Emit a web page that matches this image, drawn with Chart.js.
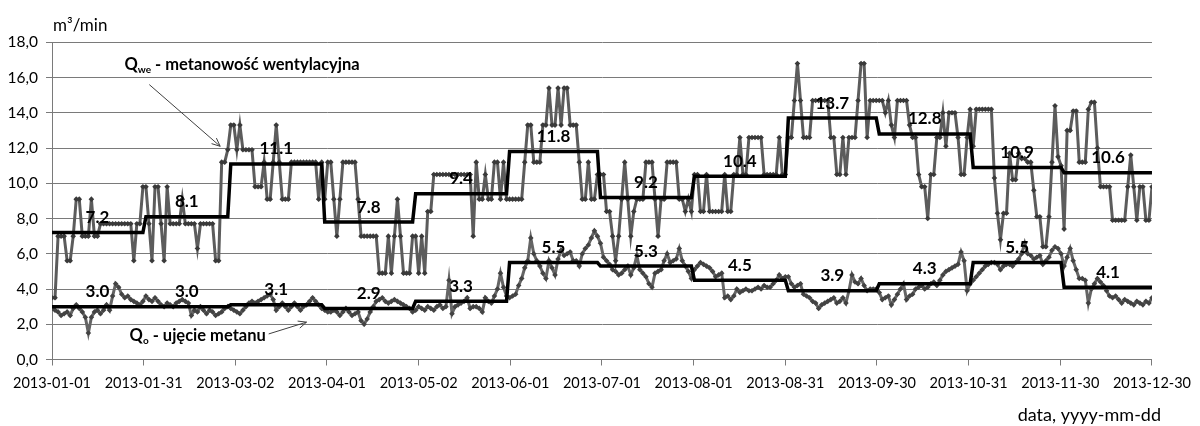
<!DOCTYPE html>
<html>
<head>
<meta charset="utf-8">
<script src="https://cdn.jsdelivr.net/npm/chart.js@4.4.1/dist/chart.umd.min.js"></script>
<style>
  html, body { margin: 0; padding: 0; background: #ffffff; }
  #wrap { width: 1200px; height: 426px; position: relative; }
</style>
</head>
<body>
<div id="wrap"><canvas id="chart" width="1200" height="426"></canvas></div>
<script>
// x-axis tick labels (13 equally spaced marks over the year)
const tickLabels = ['2013-01-01', '2013-01-31', '2013-03-02', '2013-04-01', '2013-05-02', '2013-06-01',
  '2013-07-01', '2013-08-01', '2013-08-31', '2013-09-30', '2013-10-31', '2013-11-30', '2013-12-30'];

// monthly means, m3/min
const qweMonthly = [7.2, 8.1, 11.1, 7.8, 9.4, 11.8, 9.2, 10.4, 13.7, 12.8, 10.9, 10.6];
const qoMonthly  = [3.0, 3.0, 3.1, 2.9, 3.3, 5.5, 5.3, 4.5, 3.9, 4.3, 5.5, 4.1];

// daily ventilation methane release Qwe, 2013-01-01 .. 2013-12-30
const qweDaily = [
  // Jan
  3.5,3.5,7.0,7.0,7.0,5.6,5.6,7.0,9.1,9.1,7.0,7.0,7.0,9.1,7.0,7.0,7.7,7.7,7.7,7.7,7.7,7.7,7.7,7.7,7.7,7.7,7.7,5.6,7.7,7.7,9.8,
  // Feb
  9.8,7.7,5.6,9.8,9.8,7.7,5.6,9.8,7.7,7.7,7.7,7.7,9.1,7.7,7.7,7.7,7.7,6.3,7.7,7.7,7.7,7.7,7.7,5.6,5.6,11.2,11.2,11.9,
  // Mar
  13.3,13.3,11.9,13.3,11.9,11.9,11.9,11.9,9.8,9.8,9.8,11.2,9.1,9.1,11.2,13.3,11.2,9.1,9.1,9.1,11.2,11.2,11.2,11.2,11.2,11.2,11.2,11.2,11.2,9.1,11.2,
  // Apr
  9.1,11.2,11.2,9.1,7.0,9.1,11.2,11.2,11.2,11.2,11.2,9.1,7.0,7.0,7.0,7.0,7.0,7.0,4.9,4.9,4.9,7.0,4.9,7.0,9.1,7.0,4.9,4.9,4.9,7.0,
  // May
  7.0,4.9,7.0,4.9,8.4,8.4,10.5,10.5,10.5,10.5,10.5,10.5,10.5,10.5,10.5,10.5,10.5,10.5,10.5,7.0,11.2,9.1,9.1,10.5,9.1,9.1,11.2,11.2,9.1,11.2,9.1,
  // Jun
  9.1,9.1,9.1,9.1,9.1,11.2,13.3,13.3,11.2,11.2,11.2,13.3,13.3,15.4,13.3,13.3,15.4,13.3,15.4,15.4,13.3,13.3,13.3,11.2,9.1,9.1,11.2,9.1,9.1,10.5,
  // Jul
  10.5,10.5,8.4,8.4,7.0,5.6,7.0,9.1,11.2,9.1,7.0,8.4,9.1,9.1,9.1,11.2,11.2,11.2,9.1,7.0,9.1,9.1,11.2,11.2,11.2,11.2,9.1,9.1,8.4,9.1,8.4,
  // Aug
  10.5,10.5,8.4,8.4,10.5,8.4,8.4,8.4,8.4,8.4,10.5,8.4,8.4,10.5,10.5,12.6,10.5,10.5,12.6,12.6,12.6,12.6,12.6,10.5,10.5,10.5,10.5,10.5,12.6,10.5,10.5,
  // Sep
  12.6,12.6,14.7,16.8,14.7,12.6,12.6,12.6,14.7,14.7,14.7,14.7,14.7,14.7,12.6,12.6,10.5,10.5,12.6,10.5,12.6,12.6,12.6,14.7,16.8,16.8,12.6,14.7,14.7,14.7,
  // Oct
  14.7,14.7,14.0,14.7,13.3,12.6,14.7,14.7,14.7,14.7,13.3,12.6,12.6,10.5,9.8,9.8,8.0,10.5,10.5,12.6,12.6,14.0,12.1,14.0,14.0,14.0,12.6,10.5,10.5,12.6,14.2,
  // Nov
  12.1,14.2,14.2,14.2,14.2,14.2,14.2,10.3,8.3,6.8,8.3,8.3,11.7,10.2,10.2,11.7,11.4,11.4,11.2,11.2,9.6,8.1,8.1,6.4,6.4,8.1,11.2,14.4,11.5,11.0,
  // Dec
  7.4,13.0,13.0,14.1,14.1,11.2,11.2,11.2,14.2,14.6,14.6,12.0,9.8,9.8,9.8,9.8,7.9,7.9,7.9,7.9,7.9,9.8,11.6,9.8,7.9,9.8,9.8,7.9,7.9,9.8
];

// daily methane capture by drainage Qo
const qoDaily = [
  // Jan
  2.9,2.8,2.7,2.5,2.6,2.7,2.5,2.9,3.1,2.9,2.7,2.4,1.5,2.4,2.7,2.8,2.6,2.8,3.1,2.8,3.6,4.3,4.1,3.7,3.5,3.6,3.4,3.3,3.2,3.1,3.3,
  // Feb
  3.6,3.4,3.3,3.5,3.3,3.1,3.0,3.2,3.1,3.0,3.2,3.3,3.4,3.3,3.2,2.5,2.8,2.7,3.0,2.8,2.6,2.8,2.7,2.5,2.6,2.7,2.9,3.0,
  // Mar
  2.9,2.8,2.7,2.6,2.8,3.0,3.2,3.3,3.2,3.3,3.4,3.5,3.6,3.7,3.4,2.8,3.0,3.2,3.0,2.8,3.0,3.2,3.0,2.8,3.0,3.1,3.3,3.5,3.3,3.1,2.9,
  // Apr
  2.8,2.7,2.7,2.8,2.7,2.5,2.7,2.9,2.7,2.5,2.6,2.7,2.2,2.0,2.3,2.7,3.0,3.3,3.4,3.5,3.3,3.2,3.3,3.4,3.3,3.2,3.1,3.0,2.9,2.7,
  // May
  2.8,3.0,2.9,2.8,3.0,2.9,2.8,3.0,3.1,2.9,3.0,4.5,2.6,3.0,3.1,3.2,3.3,3.5,2.9,3.0,3.0,2.9,2.7,3.5,3.3,3.2,3.6,4.0,4.9,4.1,3.6,
  // Jun
  3.5,3.6,3.7,4.2,4.6,5.2,5.6,6.9,6.0,5.6,5.3,4.9,4.6,5.6,5.2,4.8,5.7,6.2,5.9,6.0,6.1,5.6,5.6,5.3,6.0,6.3,6.5,6.9,7.3,7.0,
  // Jul
  6.6,5.8,5.6,5.4,5.1,5.0,4.8,4.9,5.1,5.3,4.8,5.2,5.9,5.1,4.9,4.7,4.3,4.1,4.9,5.0,5.1,5.6,6.0,5.5,5.6,5.7,6.3,5.6,5.3,5.0,4.6,
  // Aug
  5.1,5.3,5.5,5.4,5.3,5.2,5.0,4.7,4.8,4.9,3.5,3.6,3.4,3.6,4.0,3.8,3.9,4.0,3.9,3.9,4.0,4.1,4.0,4.2,4.1,4.1,4.3,4.5,4.8,4.6,4.7,
  // Sep
  4.7,4.3,4.1,4.2,4.3,3.7,3.6,3.5,3.3,3.2,2.9,3.1,3.2,3.3,3.4,3.5,3.2,3.3,3.5,3.2,3.9,4.8,4.4,4.3,4.6,4.2,3.9,4.0,4.0,4.0,
  // Oct
  3.8,3.4,3.5,3.6,3.1,3.4,3.7,4.0,4.3,3.4,3.6,3.7,4.0,4.1,4.2,4.0,4.1,4.3,4.4,4.2,4.5,4.8,5.0,5.1,5.2,5.3,5.4,6.1,5.6,3.9,4.3,
  // Nov
  4.5,4.7,4.9,5.1,5.3,5.4,5.5,5.5,5.4,5.1,5.3,5.4,5.4,5.3,5.5,5.7,6.0,6.6,6.0,5.9,5.7,5.8,5.9,5.4,5.6,5.8,6.2,6.4,6.3,6.0,
  // Dec
  5.3,5.8,6.3,5.6,5.1,4.6,4.6,4.5,3.2,4.0,4.3,4.6,4.4,4.2,3.9,3.6,3.5,3.6,3.4,3.2,3.4,3.3,3.2,3.1,3.3,3.2,3.1,3.3,3.2,3.5
];

// calendar: day index -> month, plus first/last day of each month
const DAY_MS = 86400000;
const yearStart = Date.UTC(2013, 0, 1);
const dayCount = qweDaily.length;
const monthOfDay = [];
for (let i = 0; i < dayCount; i++) monthOfDay.push(new Date(yearStart + i * DAY_MS).getUTCMonth());
const monthSpan = qweMonthly.map(() => [Infinity, -Infinity]);
monthOfDay.forEach((m, i) => { monthSpan[m][0] = Math.min(monthSpan[m][0], i); monthSpan[m][1] = Math.max(monthSpan[m][1], i); });

const toPoints = arr => arr.map((v, i) => ({ x: i, y: v }));
const monthlyPoints = means => monthOfDay.map((m, i) => ({ x: i, y: means[m] }));

const FONT = 'Lato, "Open Sans", sans-serif';

// annotation anchors in data units (day, m3/min)
const qweNote = { text: ' - metanowość wentylacyjna', sub: 'we', at: [23.9, 16.75], from: [32.1, 15.6], to: [55.5, 12.1] };
const qoNote  = { text: ' - ujęcie metanu', sub: 'o', at: [25.6, 1.37], from: [71.5, 1.45], to: [84.0, 2.12] };

function arrow(ctx, x1, y1, x2, y2) {
  const a = Math.atan2(y2 - y1, x2 - x1), h = 9, s = 0.42;
  ctx.beginPath();
  ctx.moveTo(x1, y1); ctx.lineTo(x2, y2);
  ctx.moveTo(x2 - h * Math.cos(a - s), y2 - h * Math.sin(a - s));
  ctx.lineTo(x2, y2);
  ctx.lineTo(x2 - h * Math.cos(a + s), y2 - h * Math.sin(a + s));
  ctx.stroke();
}

function note(ctx, xs, ys, n) {
  let x = xs.getPixelForValue(n.at[0]);
  const y = ys.getPixelForValue(n.at[1]);
  ctx.textAlign = 'left';
  ctx.textBaseline = 'middle';
  ctx.font = 'bold 16.5px ' + FONT;
  ctx.fillText('Q', x, y);
  x += ctx.measureText('Q').width;
  ctx.font = 'bold 10px ' + FONT;
  ctx.fillText(n.sub, x, y + 5);
  x += ctx.measureText(n.sub).width;
  ctx.font = 'bold 16.5px ' + FONT;
  ctx.fillText(n.text, x, y);
  arrow(ctx, xs.getPixelForValue(n.from[0]), ys.getPixelForValue(n.from[1]),
        xs.getPixelForValue(n.to[0]), ys.getPixelForValue(n.to[1]));
}

const decorations = {
  id: 'decorations',
  afterDatasetsDraw(chart) {
    const { ctx, chartArea, scales: { x, y } } = chart;
    ctx.save();
    ctx.fillStyle = '#000';
    // monthly mean labels above each step
    ctx.font = 'bold 17px ' + FONT;
    ctx.textAlign = 'center';
    ctx.textBaseline = 'middle';
    monthSpan.forEach((span, m) => {
      const xm = x.getPixelForValue((span[0] + span[1]) / 2);
      ctx.fillText(qweMonthly[m].toFixed(1), xm, y.getPixelForValue(qweMonthly[m]) - 15);
      ctx.fillText(qoMonthly[m].toFixed(1), xm, y.getPixelForValue(qoMonthly[m]) - 15);
    });
    // series call-outs
    ctx.strokeStyle = '#404040';
    ctx.lineWidth = 1;
    note(ctx, x, y, qweNote);
    note(ctx, x, y, qoNote);
    // axis titles
    ctx.textBaseline = 'alphabetic';
    ctx.textAlign = 'left';
    ctx.font = '17px ' + FONT;
    ctx.fillText('m³/min', chartArea.left + 1, 31);
    ctx.textAlign = 'right';
    ctx.font = '18px ' + FONT;
    ctx.fillText('data, yyyy-mm-dd', chartArea.right + 9, 421);
    ctx.restore();
  }
};

const dailyStyle = {
  borderWidth: 3,
  pointStyle: 'rectRot',
  pointRadius: 2.8,
  pointBorderWidth: 0,
  tension: 0,
  order: 2
};

new Chart(document.getElementById('chart'), {
  type: 'line',
  data: {
    datasets: [
      { label: 'Qwe średnia miesięczna', data: monthlyPoints(qweMonthly), borderColor: '#000', borderWidth: 3.5, pointRadius: 0, tension: 0, order: 0 },
      { label: 'Qo średnia miesięczna', data: monthlyPoints(qoMonthly), borderColor: '#000', borderWidth: 3.5, pointRadius: 0, tension: 0, order: 0 },
      Object.assign({ label: 'Qwe', data: toPoints(qweDaily), borderColor: '#5c5c5c', pointBackgroundColor: '#3a3a3a' }, dailyStyle),
      Object.assign({ label: 'Qo', data: toPoints(qoDaily), borderColor: '#656565', pointBackgroundColor: '#434343' }, dailyStyle)
    ]
  },
  options: {
    responsive: false,
    animation: false,
    devicePixelRatio: 1,
    events: [],
    layout: { padding: { top: 42.3, right: 41, left: 0, bottom: 0 } },
    plugins: { legend: { display: false }, tooltip: { enabled: false } },
    scales: {
      x: {
        type: 'linear',
        min: 0,
        max: dayCount - 1,
        afterBuildTicks(scale) {
          const step = (dayCount - 1) / (tickLabels.length - 1);
          scale.ticks = tickLabels.map((_, k) => ({ value: k * step }));
        },
        afterFit(scale) { scale.height = 66.5; },
        grid: { drawOnChartArea: false, drawTicks: true, tickLength: 6, color: '#7a7a7a' },
        border: { color: '#7a7a7a', width: 1 },
        ticks: {
          autoSkip: false,
          maxRotation: 0,
          padding: 9,
          color: '#000',
          font: { family: FONT, size: 14.5 },
          callback: (v, i) => tickLabels[i]
        }
      },
      y: {
        min: 0,
        max: 18,
        afterFit(scale) { scale.width = 52; },
        grid: { color: '#7a7a7a', lineWidth: 1, tickLength: 6 },
        border: { color: '#7a7a7a', width: 1 },
        ticks: {
          stepSize: 2,
          padding: 8,
          color: '#000',
          font: { family: FONT, size: 15.5 },
          callback: v => v.toFixed(1).replace('.', ',')
        }
      }
    }
  },
  plugins: [decorations]
});
</script>
</body>
</html>
